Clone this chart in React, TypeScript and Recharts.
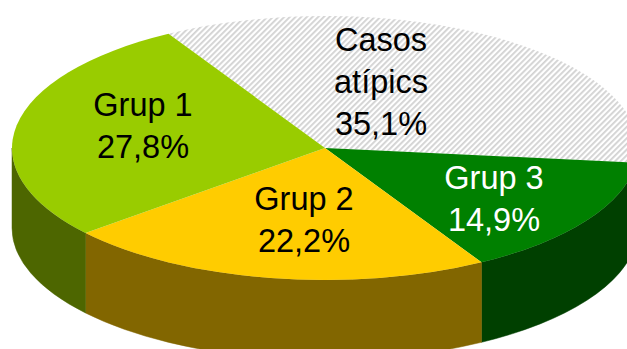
import React from "react";
import { PieChart, Pie } from "recharts";

const categories = ["Casos atípics", "Grup 3", "Grup 2", "Grup 1"];
const shares = [35.1, 14.9, 22.2, 27.8];
const nameLines = [["Casos", "atípics"], ["Grup 3"], ["Grup 2"], ["Grup 1"]];
const topColors = ["url(#hatch)", "#008000", "#FFCC00", "#99CC00"];
const wallColors = ["#b8b8b8", "#004000", "#826600", "#4D6600"];
const labelColors = ["#000000", "#ffffff", "#000000", "#000000"];

const data = categories.map((name, i) => ({
  name,
  value: shares[i],
  fill: topColors[i],
  wall: wallColors[i],
  ink: labelColors[i],
  lines: nameLines[i],
}));

const W = 627;
const H = 349;
const CX = 325;
const CY = 148;
const RX = 313;
const SQUASH = 132 / 313;
const DEPTH = 80;
const FONT = 32.5;
const LINE = 42;
// centre of each label block on the canvas
const labelCentres: Record<string, [number, number]> = {
  "Casos atípics": [381, 81],
  "Grup 3": [494, 198],
  "Grup 2": [304, 219],
  "Grup 1": [143, 125],
};

const RAD = Math.PI / 180;
const px = (a: number, r: number, cx: number) => cx + r * Math.cos(a * RAD);
const py = (a: number, r: number, cy: number) => cy - r * SQUASH * Math.sin(a * RAD);

function Slice(props: any) {
  const { cx, cy, outerRadius: r, startAngle, endAngle, fill, payload } = props;
  const wall = payload?.wall ?? props.wall;
  const ry = r * SQUASH;
  const hi = Math.max(startAngle, endAngle);
  const lo = Math.min(startAngle, endAngle);
  const large = hi - lo > 180 ? 1 : 0;
  const top = `M${cx},${cy} L${px(hi, r, cx)},${py(hi, r, cy)} A${r},${ry} 0 ${large} 1 ${px(lo, r, cx)},${py(lo, r, cy)} Z`;

  // the visible wall is the part of the rim in the front half (math angles -180..0)
  const ranges: [number, number][] = [];
  for (const k of [0, -360]) {
    const a = Math.min(hi + k, 0);
    const b = Math.max(lo + k, -180);
    if (a > b) ranges.push([a, b]);
  }
  return (
    <g>
      {ranges.map(([a, b], i) => (
        <path
          key={i}
          fill={wall}
          stroke={wall}
          strokeWidth={0.5}
          d={`M${px(a, r, cx)},${py(a, r, cy)} A${r},${ry} 0 0 1 ${px(b, r, cx)},${py(b, r, cy)} L${px(b, r, cx)},${py(b, r, cy) + DEPTH} A${r},${ry} 0 0 0 ${px(a, r, cx)},${py(a, r, cy) + DEPTH} Z`}
        />
      ))}
      <path d={top} fill={fill} />
    </g>
  );
}

function renderLabel(props: any) {
  const name: string = props.name ?? props.payload?.name;
  const row = data.find((d) => d.name === name)!;
  const [x, y] = labelCentres[name];
  const lines = [...row.lines, `${row.value.toFixed(1).replace(".", ",")}%`];
  const firstBaseline = y - ((lines.length - 1) * LINE) / 2 + FONT * 0.36;
  return (
    <text
      key={name}
      x={x}
      y={firstBaseline}
      textAnchor="middle"
      fontFamily="'Liberation Sans', Arial, sans-serif"
      fontSize={FONT}
      fill={row.ink}
    >
      {lines.map((t, i) => (
        <tspan key={i} x={x} y={firstBaseline + i * LINE}>
          {t}
        </tspan>
      ))}
    </text>
  );
}

export default function App() {
  return (
    <div style={{ position: "absolute", left: 0, top: 0, width: W, height: H, overflow: "hidden" }}>
      <PieChart width={W} height={H} margin={{ top: 0, right: 0, bottom: 0, left: 0 }}>
        <defs>
          <pattern id="hatch" width="4" height="4" patternUnits="userSpaceOnUse" patternTransform="rotate(45)">
            <rect width="4" height="4" fill="#ffffff" />
            <rect width="1.8" height="4" fill="#d2d2d2" />
          </pattern>
        </defs>
        <Pie
          data={data}
          dataKey="value"
          nameKey="name"
          cx={CX}
          cy={CY}
          innerRadius={0}
          outerRadius={RX}
          startAngle={120}
          endAngle={-240}
          paddingAngle={0}
          stroke="none"
          shape={Slice}
          label={renderLabel}
          labelLine={false}
          isAnimationActive={false}
        />
      </PieChart>
    </div>
  );
}
